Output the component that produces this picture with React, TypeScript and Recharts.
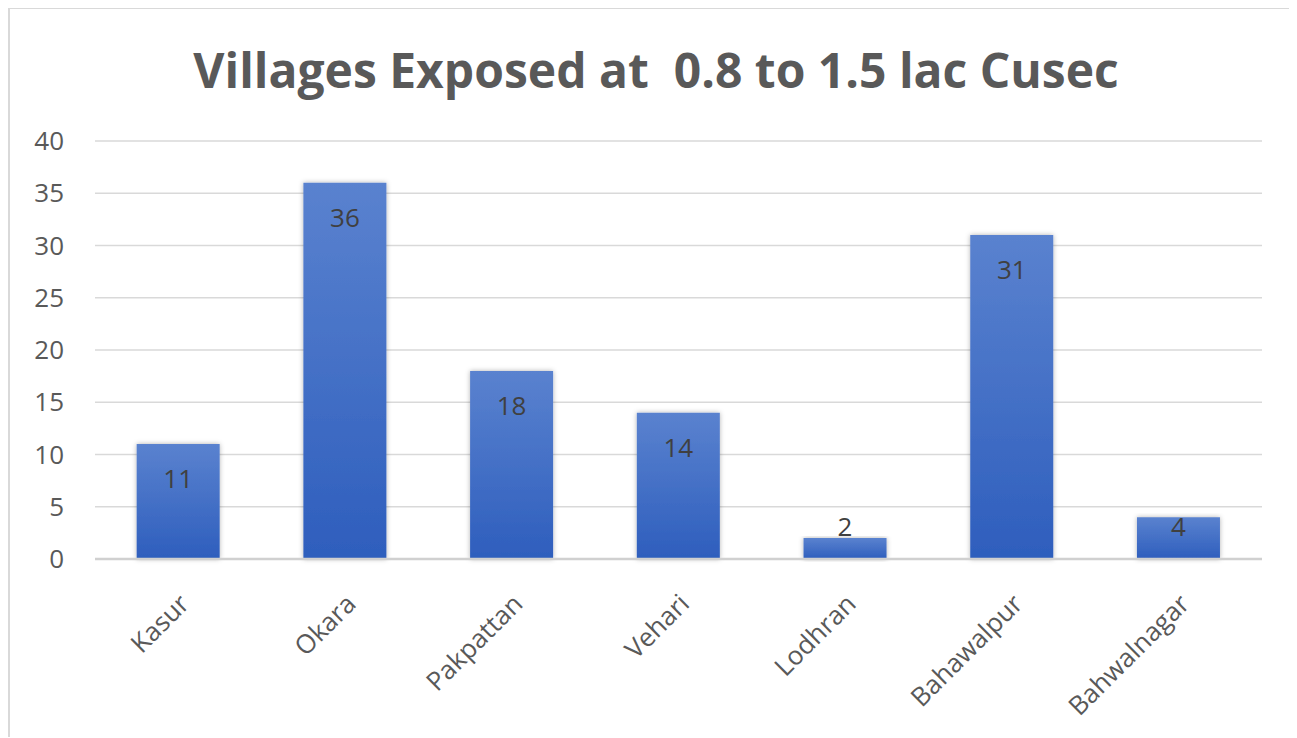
import React from "react";
import { BarChart, Bar, XAxis, YAxis, CartesianGrid, LabelList } from "recharts";

const districts = ["Kasur", "Okara", "Pakpattan", "Vehari", "Lodhran", "Bahawalpur", "Bahwalnagar"];
const villages = [11, 36, 18, 14, 2, 31, 4];
const yTicks = [0, 5, 10, 15, 20, 25, 30, 35, 40];

const data = districts.map((name, i) => ({ name, value: villages[i] }));

const FONT = "'Open Sans', 'Noto Sans', sans-serif";

const XTick = (props: any) => {
  const { x, y, payload } = props;
  return (
    <g transform={`translate(${x + 6},${y + 32})`}>
      <text
        x={0}
        y={0}
        dy="0.35em"
        textAnchor="end"
        transform="rotate(-45)"
        fill="#595959"
        fontSize={26}
        fontFamily={FONT}
      >
        {payload.value}
      </text>
    </g>
  );
};

const ValueLabel = (props: any) => {
  const { x, y, width, height, value } = props;
  const base = y + height;
  const cy = Math.min(y + 35, base - 32);
  return (
    <text
      x={x + width / 2}
      y={cy}
      dy="0.35em"
      textAnchor="middle"
      fill="#404040"
      fontSize={26}
      fontFamily={FONT}
    >
      {value}
    </text>
  );
};

export default function App() {
  return (
    <div
      style={{
        position: "relative",
        width: 1287,
        height: 728,
        marginTop: -1,
        borderTop: "2px solid #d9d9d9",
        borderLeft: "2px solid #d9d9d9",
        background: "#fff",
      }}
    >
      <div
        style={{
          position: "absolute",
          left: 0,
          right: 0,
          top: 28,
          textAlign: "center",
          fontFamily: FONT,
          fontWeight: 700,
          fontSize: 48,
          color: "#595959",
          whiteSpace: "pre",
          paddingLeft: 5,
        }}
      >
        {"Villages Exposed at  0.8 to 1.5 lac Cusec"}
      </div>
      <BarChart
        width={1287}
        height={728}
        data={data}
        margin={{ top: 132, right: 35, bottom: 0, left: 0 }}
        barCategoryGap="25%"
      >
        <defs>
          <linearGradient id="barGrad" x1="0" y1="0" x2="0" y2="1">
            <stop offset="0%" stopColor="#5a82cf" />
            <stop offset="100%" stopColor="#2e5ebd" />
          </linearGradient>
          <filter id="shadow" x="-20%" y="-10%" width="140%" height="120%">
            <feDropShadow dx="0" dy="0" stdDeviation="2.5" floodColor="#000" floodOpacity="0.3" />
          </filter>
        </defs>
        <CartesianGrid vertical={false} stroke="#d9d9d9" strokeWidth={1.5} />
        <XAxis
          dataKey="name"
          height={178}
          axisLine={{ stroke: "#d0d0d0", strokeWidth: 2.5 }}
          tickLine={false}
          tick={<XTick />}
          interval={0}
        />
        <YAxis
          width={85}
          domain={[0, 40]}
          ticks={yTicks}
          axisLine={false}
          tickLine={false}
          tickMargin={25}
          tick={{ fill: "#595959", fontSize: 26, fontFamily: FONT }}
        />
        <Bar dataKey="value" fill="url(#barGrad)" isAnimationActive={false} style={{ filter: "url(#shadow)" }}>
          <LabelList dataKey="value" content={<ValueLabel />} />
        </Bar>
      </BarChart>
    </div>
  );
}
